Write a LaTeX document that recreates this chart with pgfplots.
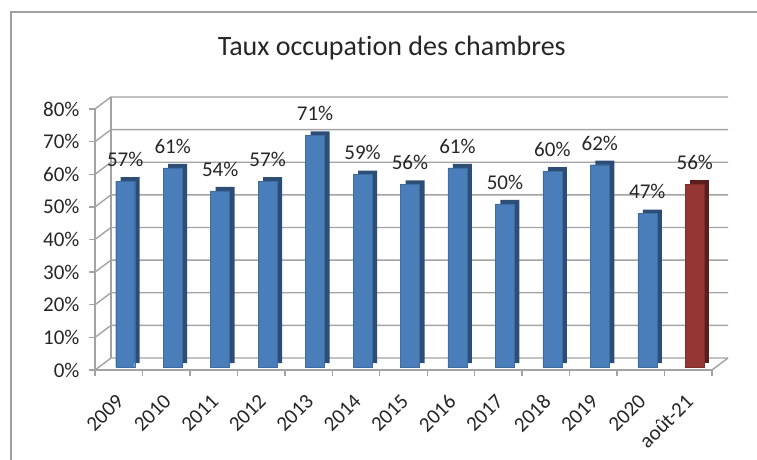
\documentclass[border=0pt]{standalone}
\usepackage{fontspec}
\setmainfont{Carlito}[Ligatures=CommonOff]
\usepackage{pgfplots}
\pgfplotsset{compat=1.18}
\definecolor{barblue}{HTML}{4A7EBB}
\definecolor{barblueside}{HTML}{2C4D75}
\definecolor{barred}{HTML}{943634}
\definecolor{barredside}{HTML}{5C1E1C}
\definecolor{gridgray}{HTML}{A3A3A3}
\definecolor{framegray}{HTML}{A0A0A0}

\pgfplotstableread{
x  y
0  57
1  61
2  54
3  57
4  71
5  59
6  56
7  61
8  50
9  60
10 62
11 47
}\yearly
\pgfplotstableread{
x  y
12 56
}\partial

\begin{document}
\begin{tikzpicture}
\begin{axis}[name=ax,
  scale only axis, width=617pt, height=261pt,
  xmin=-0.5, xmax=12.5, ymin=0, ymax=80,
  axis x line*=bottom, axis y line*=left,
  axis line style={gridgray, line width=1.4pt},
  /pgf/number format/assume math mode=true,
  ytick={0,10,...,80},
  yticklabel={\pgfmathprintnumber{\tick}\%},
  xtick={-0.5,0.5,...,12.5},
  xticklabels={2009,2010,2011,2012,2013,2014,2015,2016,2017,2018,2019,2020,août-21},
  x tick label as interval,
  tick align=outside, major tick length=6pt,
  tick style={gridgray, line width=1.4pt},
  ticklabel style={font=\fontsize{21}{24}\selectfont, text=black!85},
  yticklabel style={xshift=-6pt},
  xticklabel style={rotate=45, anchor=east, inner sep=1pt, xshift=-13.5pt, yshift=-16.5pt},
  title={Taux occupation des chambres},
  title style={font=\fontsize{28}{32}\selectfont, text=black!85, at={(0.481,1)}, anchor=center, yshift=55pt},
  clip=false,
  nodes near coords={\pgfmathprintnumber{\pgfplotspointmeta}\%},
  nodes near coords style={font=\fontsize{21}{24}\selectfont, text=black!85, anchor=south, yshift=11pt},
]
% back wall, side wall and floor of the 3D frame
\pgfplotsinvokeforeach{0,10,...,80}{
  \draw[gridgray, line width=1.4pt] (axis cs:-0.5,#1) -- ++(16pt,12pt) -- ([xshift=16pt,yshift=12pt]axis cs:12.5,#1);
}
\draw[gridgray, line width=1.4pt] ([xshift=16pt,yshift=12pt]axis cs:-0.5,0) -- ([xshift=16pt,yshift=12pt]axis cs:-0.5,80);
\draw[gridgray, line width=1.4pt] (axis cs:12.5,0) -- ++(16pt,12pt);

% side faces (darker, shifted back)
\addplot[ybar, bar width=19pt, fill=barblueside, draw=none, xshift=11.5pt, yshift=7pt, nodes near coords={}] table[x=x, y=y] {\yearly};
\addplot[ybar, bar width=19pt, fill=barredside, draw=none, xshift=11.5pt, yshift=7pt, nodes near coords={}] table[x=x, y=y] {\partial};
% front faces
\addplot[ybar, bar width=19pt, fill=barblue, draw=barblue!85!black, line width=0.4pt, xshift=6.5pt, yshift=3pt] table[x=x, y=y] {\yearly};
\addplot[ybar, bar width=19pt, fill=barred, draw=barred!85!black, line width=0.4pt, xshift=6.5pt, yshift=3pt] table[x=x, y=y] {\partial};
\end{axis}
\pgfresetboundingbox
\begin{scope}[shift={(ax.south west)}]
\path[use as bounding box] (-95pt,-90pt) rectangle (662pt,370pt);
\draw[framegray, line width=2pt] (-84pt,-100pt) -- (-84pt,358pt) -- (670pt,358pt);
\end{scope}
\end{tikzpicture}
\end{document}
